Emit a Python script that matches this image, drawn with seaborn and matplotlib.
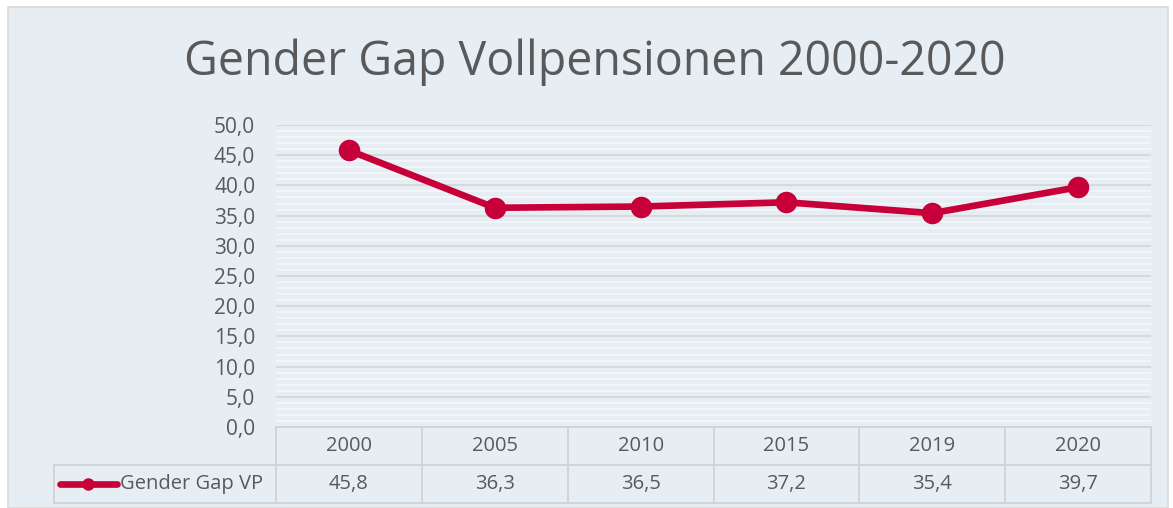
import numpy as np
import pandas as pd
import matplotlib
matplotlib.use("Agg")
import matplotlib.pyplot as plt
import seaborn as sns
from matplotlib.ticker import MultipleLocator, FuncFormatter
from matplotlib.lines import Line2D
from matplotlib.patches import Rectangle

# data
years = ["2000", "2005", "2010", "2015", "2019", "2020"]
gap_vp = [45.8, 36.3, 36.5, 37.2, 35.4, 39.7]
series_name = "Gender Gap VP"
title = "Gender Gap Vollpensionen 2000-2020"

bg = "#E6EEF4"
red = "#C8003A"
txt = "#595959"
grid_major = "#D4D7DA"
grid_minor = "#F4F7F9"
border = "#D0D3D6"

sns.set_style("white")
plt.rcParams["font.family"] = ["Open Sans", "DejaVu Sans"]

W, H = 1173, 508
fig = plt.figure(figsize=(W / 100, H / 100), dpi=100)
fig.patch.set_facecolor("white")

# chart area background and frame
fig.patches.append(Rectangle((8 / W, 0), (1168 - 8) / W, 1 - 7 / H,
                             transform=fig.transFigure, facecolor=bg,
                             edgecolor="#D9D9D9", linewidth=1.2, zorder=-10))

x0, x1 = 276, 1151
y_top, y_bot = 125, 427
ax = fig.add_axes([x0 / W, 1 - y_bot / H, (x1 - x0) / W, (y_bot - y_top) / H])
ax.set_facecolor(bg)

df = pd.DataFrame({"year": years, "value": gap_vp})
df["pos"] = np.arange(len(df))

sns.lineplot(data=df, x="pos", y="value", ax=ax, color=red, linewidth=4.8,
             marker="o", markersize=15.5, markeredgewidth=0, zorder=5)

ax.set_xlim(-0.5, len(years) - 0.5)
ax.set_ylim(0, 50)
ax.yaxis.set_major_locator(MultipleLocator(5))
ax.yaxis.set_minor_locator(MultipleLocator(1))
ax.yaxis.set_major_formatter(FuncFormatter(lambda v, p: f"{v:.1f}".replace(".", ",")))
ax.grid(which="minor", axis="y", color=grid_minor, linewidth=1.2)
ax.grid(which="major", axis="y", color=grid_major, linewidth=1.3)
ax.set_axisbelow(True)
ax.set_xticks([])
ax.tick_params(axis="y", which="both", length=0, labelsize=15, labelcolor=txt, pad=15)
ax.set_xlabel("")
ax.set_ylabel("")
for s in ax.spines.values():
    s.set_visible(False)

# data table below the plot
row1_top, row1_bot, row2_bot = 427, 465, 503
leg_left = 54
col_w = (x1 - x0) / len(years)


def fx(px):
    return px / W


def fy(py):
    return 1 - py / H


def hline(xa, xb, y):
    fig.lines.append(Line2D([fx(xa), fx(xb)], [fy(y), fy(y)], transform=fig.transFigure,
                            color=border, linewidth=1.3))


def vline(x, ya, yb):
    fig.lines.append(Line2D([fx(x), fx(x)], [fy(ya), fy(yb)], transform=fig.transFigure,
                            color=border, linewidth=1.3))


hline(x0, x1, row1_top)
hline(leg_left, x1, row1_bot)
hline(leg_left, x1, row2_bot)
vline(leg_left, row1_bot, row2_bot)
for i in range(len(years) + 1):
    vline(x0 + i * col_w, row1_top, row2_bot)

for i, (yr, v) in enumerate(zip(years, gap_vp)):
    cx = x0 + (i + 0.5) * col_w
    fig.text(fx(cx), fy((row1_top + row1_bot) / 2), yr, ha="center", va="center",
             fontsize=14.5, color=txt)
    fig.text(fx(cx), fy((row1_bot + row2_bot) / 2), f"{v:.1f}".replace(".", ","),
             ha="center", va="center", fontsize=14.5, color=txt)

# legend key inside the table
ky = fy((row1_bot + row2_bot) / 2)
fig.lines.append(Line2D([fx(60), fx(117)], [ky, ky], transform=fig.transFigure,
                        color=red, linewidth=4.8, solid_capstyle="round"))
fig.lines.append(Line2D([fx(88)], [ky], transform=fig.transFigure, color=red,
                        marker="o", markersize=9, markeredgewidth=0))
fig.text(fx(120), ky, series_name, ha="left", va="center", fontsize=14.5, color=txt)

fig.text(fx(595), fy(62), title, ha="center", va="center", fontsize=33.5, color=txt)

fig.savefig("out.png", dpi=100, facecolor=fig.get_facecolor())
